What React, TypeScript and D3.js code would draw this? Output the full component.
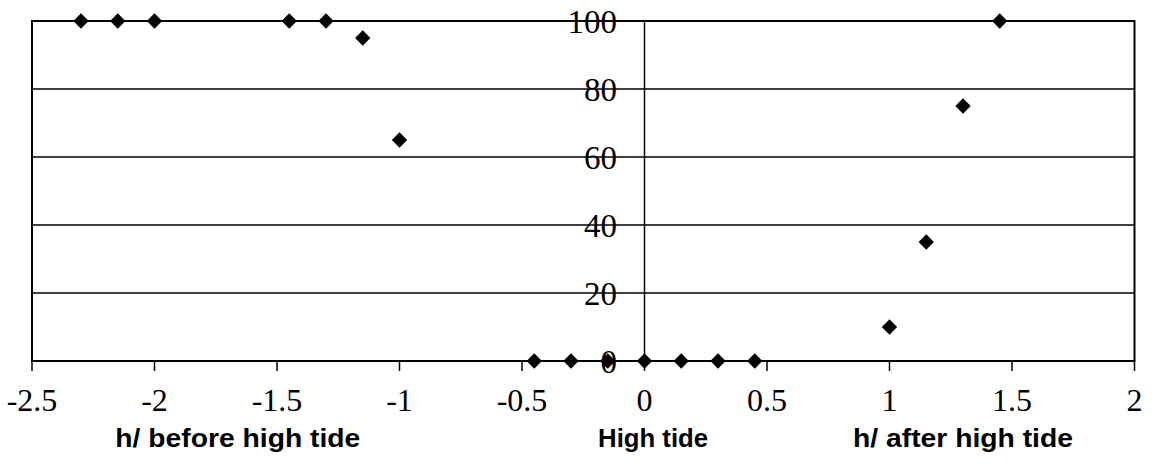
import React from "react";
import * as d3 from "d3";

const xTicks = [-2.5, -2, -1.5, -1, -0.5, 0, 0.5, 1, 1.5, 2];
const xTickLabels = ["-2.5", "-2", "-1.5", "-1", "-0.5", "0", "0.5", "1", "1.5", "2"];
const yTicks = [0, 20, 40, 60, 80, 100];
const yTickLabels = ["0", "20", "40", "60", "80", "100"];
const hoursX = [-2.3, -2.15, -2.0, -1.45, -1.3, -1.15, -1.0, -0.45, -0.3, -0.15, 0, 0.15, 0.3, 0.45, 1.0, 1.15, 1.3, 1.45];
const percentY = [100, 100, 100, 100, 100, 95, 65, 0, 0, 0, 0, 0, 0, 0, 10, 35, 75, 100];
const axisTitles = ["h/ before high tide", "High tide", "h/ after high tide"];
const axisTitleX = [-1.66, 0.035, 1.30];
const axisTitleLen = [245, 110, 220];

export default function App() {
  const W = 1161, H = 464;
  const left = 32, right = 1134.5, top = 21, bottom = 361;
  const x = d3.scaleLinear().domain([-2.5, 2]).range([left, right]);
  const y = d3.scaleLinear().domain([0, 100]).range([bottom, top]);
  const sym = d3.symbol().type(d3.symbolDiamond2).size(150);
  return (
    <svg width={W} height={H} style={{ position: "absolute", left: 0, top: 0, background: "#fff" }}>
      <rect x={0} y={0} width={W} height={H} fill="#fff" />
      {yTicks.filter((t) => t > 0).map((t) => (
        <line key={"g" + t} x1={left} x2={right} y1={y(t)} y2={y(t)} stroke="#000" strokeWidth={1.5} />
      ))}
      <rect x={left} y={top} width={right - left} height={bottom - top} fill="none" stroke="#000" strokeWidth={2} />
      <line x1={x(0)} x2={x(0)} y1={top} y2={bottom} stroke="#000" strokeWidth={1.5} />
      {xTicks.map((t) => (
        <line key={"t" + t} x1={x(t)} x2={x(t)} y1={bottom} y2={bottom + 10} stroke="#000" strokeWidth={1.5} />
      ))}
      {yTickLabels.map((l, i) => (
        <text key={"yl" + i} x={617} y={y(yTicks[i])} dy="0.35em" textAnchor="end"
          fontFamily="'Liberation Serif', 'Times New Roman', serif" fontSize={33}>{l}</text>
      ))}
      {xTickLabels.map((l, i) => (
        <text key={"xl" + i} x={x(xTicks[i])} y={411} textAnchor="middle"
          fontFamily="'Liberation Serif', 'Times New Roman', serif" fontSize={32}>{l}</text>
      ))}
      {hoursX.map((h, i) => (
        <path key={"p" + i} d={sym() as string} transform={`translate(${x(h)},${y(percentY[i])})`} fill="#000" />
      ))}
      {axisTitles.map((t, i) => (
        <text key={"at" + i} x={x(axisTitleX[i])} y={447} textAnchor="middle"
          textLength={axisTitleLen[i]} lengthAdjust="spacingAndGlyphs"
          fontFamily="'Liberation Sans', Arial, sans-serif" fontSize={26} fontWeight={600}>{t}</text>
      ))}
    </svg>
  );
}
